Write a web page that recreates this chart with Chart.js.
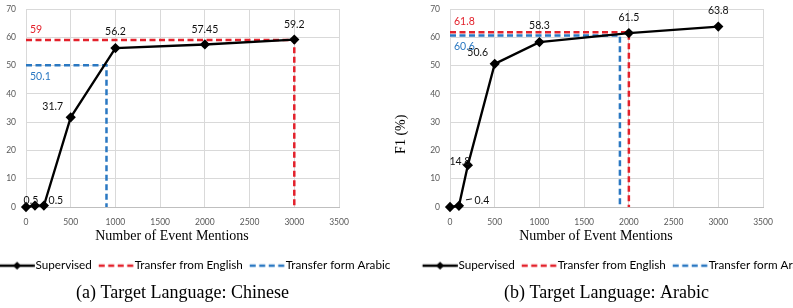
<!DOCTYPE html>
<html>
<head>
<meta charset="utf-8">
<title>Supervised vs transfer</title>
<script src="https://cdn.jsdelivr.net/npm/chart.js@4.4.1/dist/chart.umd.min.js"></script>
<style>
    body { margin: 0; width: 793px; height: 308px; overflow: hidden; position: relative; background: #fff; }
    .panel { position: absolute; top: 0; height: 308px; }
    #panelA { left: -60px; width: 504px; }
    #panelB { left: 393px; width: 444px; }
</style>
</head>
<body>

<div class="panel" id="panelA"><canvas id="chartA" width="504" height="308"></canvas></div>
<div class="panel" id="panelB"><canvas id="chartB" width="444" height="308"></canvas></div>

<script>
    // Data
    const mentions = [0, 100, 200, 500, 1000, 2000, 3000];
    const chineseSupervised = [0, 0.5, 0.5, 31.7, 56.2, 57.45, 59.2];
    const arabicSupervised = [0, 0.4, 14.8, 50.6, 58.3, 61.5, 63.8];

    // transfer results: [F1, matching number of event mentions]
    const chineseFromEnglish = [59, 3000];
    const chineseFromArabic = [50.1, 900];
    const arabicFromEnglish = [61.8, 2000];
    const arabicFromArabic = [60.6, 1900];

    const xTicks = [0, 500, 1000, 1500, 2000, 2500, 3000, 3500];
    const yTicks = [0, 10, 20, 30, 40, 50, 60, 70];
    const seriesNames = ["Supervised", "Transfer from English", "Transfer form Arabic"];
    const captions = ["(a) Target Language: Chinese", "(b) Target Language: Arabic"];

    const RED = "#e3212b";
    const BLUE = "#2a78c2";
    const GRID = "#d9d9d9";
    const legendSize = 11.7;
    const iconBox = 36;

    // legend icons: line with a diamond, and dashed lines
    function makeIcon(color, dashed) {
        const c = document.createElement("canvas");
        c.width = 46; c.height = 12;
        const g = c.getContext("2d");
        const x0 = 23 - iconBox / 2 + legendSize / 2, x1 = x0 + 35;
        g.strokeStyle = color;
        g.lineWidth = 2.5;
        if (dashed) g.setLineDash([6, 3.5]);
        g.beginPath();
        g.moveTo(x0, 6); g.lineTo(x1, 6);
        g.stroke();
        if (!dashed) {
            g.fillStyle = color;
            g.beginPath();
            const cx = (x0 + x1) / 2;
            g.moveTo(cx, 2); g.lineTo(cx + 4, 6); g.lineTo(cx, 10); g.lineTo(cx - 4, 6);
            g.fill();
        }
        return c;
    }
    const icons = [makeIcon("#000", false), makeIcon(RED, true), makeIcon(BLUE, true)];

    // value labels next to points, plus the transfer values
    const pointLabels = {
        id: "pointLabels",
        afterDatasetsDraw(chart, args, opts) {
            const {ctx, scales: {x, y}} = chart;
            const meta = chart.getDatasetMeta(0);
            const values = chart.data.datasets[0].data;
            ctx.save();
            ctx.font = "10.5px Lato";
            ctx.textBaseline = "middle";
            ctx.textAlign = "center";
            ctx.fillStyle = "#111";
            opts.offsets.forEach((off, i) => {
                if (!off) return;
                const pt = meta.data[i];
                ctx.fillText(String(values[i].y), pt.x + off[0], pt.y + off[1]);
                if (off[2]) {
                    ctx.strokeStyle = "#111";
                    ctx.lineWidth = 1;
                    ctx.beginPath();
                    ctx.moveTo(pt.x + 7, pt.y - 6);
                    ctx.lineTo(pt.x + 13, pt.y - 7);
                    ctx.stroke();
                }
            });
            ctx.textAlign = "left";
            opts.transfer.forEach(t => {
                ctx.fillStyle = t.color;
                ctx.fillText(String(t.value), x.getPixelForValue(0) + 4, y.getPixelForValue(t.value) + t.dy);
            });
            ctx.restore();
        }
    };

    function stepLine(result) {
        return [{x: 0, y: result[0]}, {x: result[1], y: result[0]}, {x: result[1], y: 0}];
    }

    function makeChart(id, supervised, fromEnglish, fromArabic, caption, opt) {
        const ctx = document.getElementById(id).getContext("2d");
        return new Chart(ctx, {
            type: "line",
            data: {
                datasets: [
                    {
                        label: seriesNames[0],
                        data: mentions.map((m, i) => ({x: m, y: supervised[i]})),
                        borderColor: "#000",
                        backgroundColor: "#000",
                        borderWidth: 2.3,
                        pointStyle: "rectRot",
                        pointRadius: 3.5,
                        tension: 0,
                        clip: false
                    },
                    {
                        label: seriesNames[1],
                        data: stepLine(fromEnglish),
                        borderColor: RED,
                        borderWidth: 2.5,
                        borderDash: [6, 3.5],
                        pointRadius: 0,
                        clip: false
                    },
                    {
                        label: seriesNames[2],
                        data: stepLine(fromArabic),
                        borderColor: BLUE,
                        borderWidth: 2.5,
                        borderDash: [6, 3.5],
                        pointRadius: 0,
                        clip: false
                    }
                ]
            },
            options: {
                responsive: false,
                animation: false,
                layout: { autoPadding: false, padding: { top: 9, left: 0, right: 0, bottom: 0 } },
                scales: {
                    x: {
                        type: "linear",
                        min: xTicks[0],
                        max: xTicks[xTicks.length - 1],
                        afterBuildTicks: s => { s.ticks = xTicks.map(v => ({value: v})); },
                        afterFit: s => { s.height = 51.8; s.paddingLeft = 0; s.paddingRight = 0; },
                        grid: { color: GRID, drawTicks: false },
                        border: { color: "#bfbfbf" },
                        ticks: {
                            color: "#595959",
                            font: { family: "Lato", size: 8.5 },
                            padding: 10,
                            maxRotation: 0,
                            callback: v => String(v)
                        },
                        title: {
                            display: true,
                            text: "Number of Event Mentions      ",
                            color: "#000",
                            font: { family: "Liberation Serif", size: 14 },
                            padding: { top: 1.6, bottom: 14 }
                        }
                    },
                    y: {
                        min: yTicks[0],
                        max: yTicks[yTicks.length - 1],
                        afterBuildTicks: s => { s.ticks = yTicks.map(v => ({value: v})); },
                        afterFit: s => { s.width = opt.leftWidth; s.paddingTop = 0; s.paddingBottom = 0; },
                        grid: { color: GRID, drawTicks: false },
                        border: { color: GRID },
                        ticks: { color: "#595959", font: { family: "Lato", size: 8.5 }, padding: 10 },
                        title: {
                            display: !!opt.yTitle,
                            text: opt.yTitle || "",
                            color: "#000",
                            font: { family: "Liberation Serif", size: 14 },
                            padding: 0
                        }
                    },
                    spare: {
                        type: "linear",
                        position: "right",
                        afterFit: s => { s.width = opt.rightWidth; s.paddingTop = 0; s.paddingBottom = 0; },
                        grid: { display: false },
                        border: { display: false },
                        ticks: { display: false }
                    }
                },
                plugins: {
                    legend: {
                        position: "bottom",
                        labels: {
                            usePointStyle: true,
                            pointStyleWidth: iconBox,
                            padding: 1,
                            color: "#000",
                            font: { family: "Lato", size: legendSize },
                            generateLabels: chart => chart.data.datasets.map((ds, i) => ({
                                text: ds.label,
                                pointStyle: icons[i],
                                datasetIndex: i,
                                hidden: false,
                                lineWidth: 0,
                                fillStyle: "transparent",
                                strokeStyle: "transparent",
                                fontColor: "#000"
                            }))
                        }
                    },
                    title: {
                        display: true,
                        position: "bottom",
                        fullSize: false,
                        text: caption,
                        color: "#000",
                        font: { family: "Liberation Serif", size: 18, weight: "normal" },
                        padding: { top: 0.7, bottom: 4.2 }
                    },
                    tooltip: { enabled: false },
                    pointLabels: {
                        offsets: opt.offsets,
                        transfer: [
                            { value: fromEnglish[0], color: RED, dy: -11 },
                            { value: fromArabic[0], color: BLUE, dy: 11 }
                        ]
                    }
                }
            },
            plugins: [pointLabels]
        });
    }

    makeChart("chartA", chineseSupervised, chineseFromEnglish, chineseFromArabic, captions[0], {
        leftWidth: 86,
        rightWidth: 105,
        offsets: [null, [-4, -5], [12, -5], [-18, -11], [0, -16], [0, -15], [0, -15]]
    });

    makeChart("chartB", arabicSupervised, arabicFromEnglish, arabicFromArabic, captions[1], {
        leftWidth: 57,
        rightWidth: 74,
        yTitle: "F1 (%)               ",
        offsets: [null, [23, -5, true], [-8, -4], [-17, -11], [0, -16], [0, -15], [0, -16]]
    });
</script>
</body>
</html>
